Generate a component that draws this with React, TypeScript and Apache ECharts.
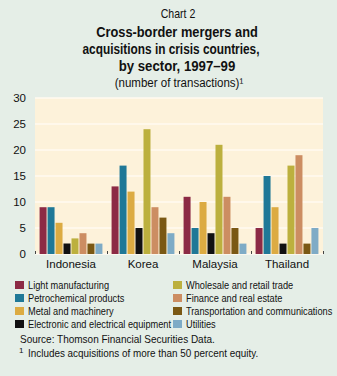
import React, { useEffect, useRef } from "react";
import * as echarts from "echarts";

const categories = ["Indonesia", "Korea", "Malaysia", "Thailand"];
const seriesNames = [
  "Light manufacturing",
  "Petrochemical products",
  "Metal and machinery",
  "Electronic and electrical equipment",
  "Wholesale and retail trade",
  "Finance and real estate",
  "Transportation and communications",
  "Utilities",
];
const lightManufacturing = [9, 13, 11, 5];
const petrochemical = [9, 17, 5, 15];
const metalMachinery = [6, 12, 10, 9];
const electronic = [2, 5, 4, 2];
const wholesale = [3, 24, 21, 17];
const finance = [4, 9, 11, 19];
const transportation = [2, 7, 5, 2];
const utilities = [2, 4, 2, 5];
const seriesValues = [
  lightManufacturing,
  petrochemical,
  metalMachinery,
  electronic,
  wholesale,
  finance,
  transportation,
  utilities,
];
const colors = [
  "#8c2a45",
  "#1f7897",
  "#dcab42",
  "#111111",
  "#bcb03e",
  "#cc8d62",
  "#7a5814",
  "#7eabc6",
];

const FONT = "'Liberation Sans', Arial, sans-serif";

export default function App() {
  const ref = useRef<HTMLDivElement>(null);
  useEffect(() => {
    document.body.style.margin = "0";
    const chart = echarts.init(ref.current!, undefined, { renderer: "svg" });

    const legendItems: any[] = [];
    seriesNames.forEach((name, i) => {
      const col = Math.floor(i / 4);
      const row = i % 4;
      const x = col === 0 ? 15 : 173;
      const y = 285 + row * 13;
      legendItems.push({
        type: "rect",
        shape: { x, y: y - 4, width: 9, height: 8 },
        style: { fill: colors[i] },
      });
      legendItems.push({
        type: "text",
        x: x + 13,
        y,
        scaleX: 0.84,
        style: { text: name, font: `11px ${FONT}`, fill: "#111", textVerticalAlign: "middle" },
      });
    });

    const titleLine = (text: string, cx: number, y: number, bold: boolean, size: number, sx: number) => ({
      type: "text",
      x: cx,
      y,
      scaleX: sx,
      style: {
        text,
        font: `${bold ? "bold " : ""}${size}px ${FONT}`,
        fill: "#111",
        textAlign: "center",
        textVerticalAlign: "middle",
      },
    });

    chart.setOption({
      animation: false,
      backgroundColor: "#e5eee7",
      textStyle: { fontFamily: FONT },
      grid: {
        left: 35,
        right: 14,
        top: 98,
        bottom: 122,
        show: true,
        backgroundColor: "#fdf2da",
        borderWidth: 0,
      },
      xAxis: {
        type: "category",
        data: categories,
        axisLine: { show: false },
        axisTick: { show: true, inside: true, length: 3, lineStyle: { color: "#444" } },
        axisLabel: { color: "#111", fontSize: 11.5, margin: 4, fontFamily: FONT },
      },
      yAxis: {
        type: "value",
        min: 0,
        max: 30,
        interval: 5,
        axisLine: { show: false },
        axisTick: { show: false },
        splitLine: { lineStyle: { color: "#fffaf0", width: 1.5 } },
        axisLabel: { color: "#111", fontSize: 11.5, margin: 9, fontFamily: FONT },
      },
      series: seriesNames.map((name, i) => ({
        name,
        type: "bar",
        data: seriesValues[i],
        barWidth: 7,
        barGap: "14%",
        barCategoryGap: "10%",
        itemStyle: { color: colors[i] },
      })),
      graphic: [
        titleLine("Chart 2", 178, 14, false, 12, 0.88),
        titleLine("Cross-border mergers and", 177, 32, true, 15, 0.855),
        titleLine("acquisitions in crisis countries,", 171, 49, true, 15, 0.79),
        titleLine("by sector, 1997–99", 177, 66, true, 15, 0.88),
        titleLine("(number of transactions)¹", 179, 82, false, 12, 0.96),
        ...legendItems,
        { type: "text", x: 20, y: 339, scaleX: 0.91, style: { text: "Source: Thomson Financial Securities Data.", font: `11px ${FONT}`, fill: "#111", textVerticalAlign: "middle" } },
        { type: "text", x: 19, y: 350, style: { text: "1", font: `8px ${FONT}`, fill: "#111", textVerticalAlign: "middle" } },
        { type: "text", x: 28, y: 353, scaleX: 0.9, style: { text: "Includes acquisitions of more than 50 percent equity.", font: `11px ${FONT}`, fill: "#111", textVerticalAlign: "middle" } },
      ],
    });
    return () => chart.dispose();
  }, []);
  return <div ref={ref} style={{ width: 337, height: 376 }} />;
}
